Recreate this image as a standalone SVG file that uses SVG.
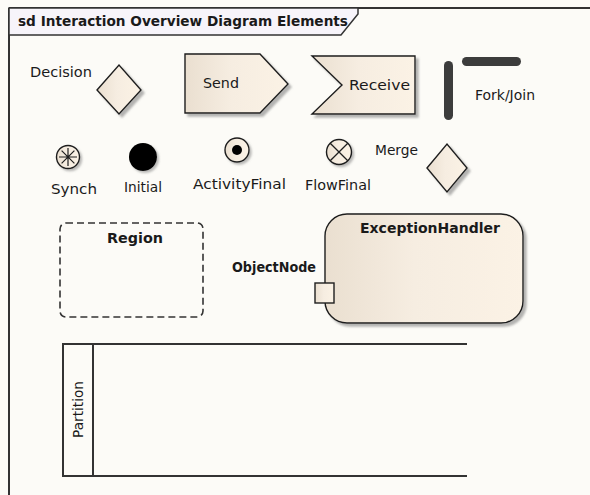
<svg xmlns="http://www.w3.org/2000/svg" width="590" height="495" viewBox="0 0 590 495">
<defs>
<linearGradient id="fillG" x1="0" y1="0" x2="1" y2="0">
<stop offset="0" stop-color="#EADFD0"/>
<stop offset="0.45" stop-color="#F6EDE1"/>
<stop offset="1" stop-color="#FBF2E5"/>
</linearGradient>
<filter id="sh" x="-20%" y="-20%" width="150%" height="150%">
<feDropShadow dx="3" dy="3" stdDeviation="1.2" flood-color="#777" flood-opacity="0.55"/>
</filter>
<filter id="shs" x="-30%" y="-30%" width="170%" height="170%">
<feDropShadow dx="2" dy="2" stdDeviation="1" flood-color="#777" flood-opacity="0.5"/>
</filter>
</defs>
<style>
text{font-family:"DejaVu Sans","Liberation Sans",sans-serif;font-size:14.5px;fill:#1a1a1a}
.b{font-weight:bold}
.node{fill:url(#fillG);stroke:#1e1e1e;stroke-width:1.4}
.line{stroke:#333;stroke-width:2;fill:none}
</style>
<rect x="0" y="0" width="590" height="495" fill="#FCFBF7"/>
<g id="frame">
<path d="M9,8 H590 M9,8 V495" class="line"/>
<polygon points="9,8 358,8 358,14 341,35 9,35" fill="#F7F4FA" stroke="#333" stroke-width="1.5"/>
<text x="18" y="26" class="b" textLength="330" lengthAdjust="spacingAndGlyphs">sd Interaction Overview Diagram Elements</text>
</g>
<g id="connectors"/>
<g id="decision">
<polygon points="97,90 119,65 141,90 119,114" class="node" filter="url(#sh)"/>
<text x="30" y="77" textLength="62" lengthAdjust="spacingAndGlyphs">Decision</text>
</g>
<g id="send">
<polygon points="185,54 260,54 288,84 260,113 185,113" class="node" filter="url(#sh)"/>
<text x="203" y="88" textLength="36" lengthAdjust="spacingAndGlyphs">Send</text>
</g>
<g id="receive">
<polygon points="312,56 415,56 415,114 312,114 342,85" class="node" filter="url(#sh)"/>
<text x="349" y="90" textLength="61" lengthAdjust="spacingAndGlyphs">Receive</text>
</g>
<g id="forkjoin">
<rect x="444" y="61" width="9" height="59" rx="4.5" fill="#3c3c3c"/>
<rect x="462" y="57" width="59" height="9" rx="4.5" fill="#3c3c3c"/>
<text x="475" y="100" textLength="60" lengthAdjust="spacingAndGlyphs">Fork/Join</text>
</g>
<g id="synch">
<circle cx="68" cy="157" r="11.5" class="node" filter="url(#shs)"/>
<path d="M68,148 V166 M59,157 H77 M61.6,150.6 L74.4,163.4 M74.4,150.6 L61.6,163.4" stroke="#1e1e1e" stroke-width="1.2"/>
<text x="51" y="194" textLength="46" lengthAdjust="spacingAndGlyphs">Synch</text>
</g>
<g id="initial">
<circle cx="143" cy="157" r="14" fill="#000" filter="url(#shs)"/>
<text x="124" y="192" textLength="38" lengthAdjust="spacingAndGlyphs">Initial</text>
</g>
<g id="activityfinal">
<circle cx="237" cy="150" r="12" class="node" filter="url(#shs)"/>
<circle cx="237" cy="150" r="5" fill="#000"/>
<text x="193" y="189" textLength="93" lengthAdjust="spacingAndGlyphs">ActivityFinal</text>
</g>
<g id="flowfinal">
<circle cx="339" cy="152" r="12.5" class="node" filter="url(#shs)"/>
<path d="M330.2,143.2 L347.8,160.8 M347.8,143.2 L330.2,160.8" stroke="#1e1e1e" stroke-width="1.3"/>
<text x="305" y="190" textLength="66" lengthAdjust="spacingAndGlyphs">FlowFinal</text>
</g>
<g id="merge">
<polygon points="427,168 447,144 467,168 447,192" class="node" filter="url(#sh)"/>
<text x="375" y="155" textLength="43" lengthAdjust="spacingAndGlyphs">Merge</text>
</g>
<g id="region">
<rect x="60" y="223" width="143" height="94" rx="6" fill="none" stroke="#333" stroke-width="1.6" stroke-dasharray="7,4"/>
<text x="107" y="243" class="b" textLength="56" lengthAdjust="spacingAndGlyphs">Region</text>
</g>
<g id="exceptionhandler">
<rect x="325" y="214" width="198" height="109" rx="22" class="node" filter="url(#sh)"/>
<text x="360" y="233" class="b" textLength="140" lengthAdjust="spacingAndGlyphs">ExceptionHandler</text>
</g>
<g id="objectnode">
<rect x="315" y="283" width="19" height="20" class="node" stroke-width="1.6"/>
<text x="232" y="272" class="b" textLength="84" lengthAdjust="spacingAndGlyphs">ObjectNode</text>
</g>
<g id="partition">
<path d="M467,344 H63 V476 H467 M93,344 V476" class="line"/>
<text transform="translate(83,438) rotate(-90)" x="0" y="0" textLength="57" lengthAdjust="spacingAndGlyphs">Partition</text>
</g>
</svg>
